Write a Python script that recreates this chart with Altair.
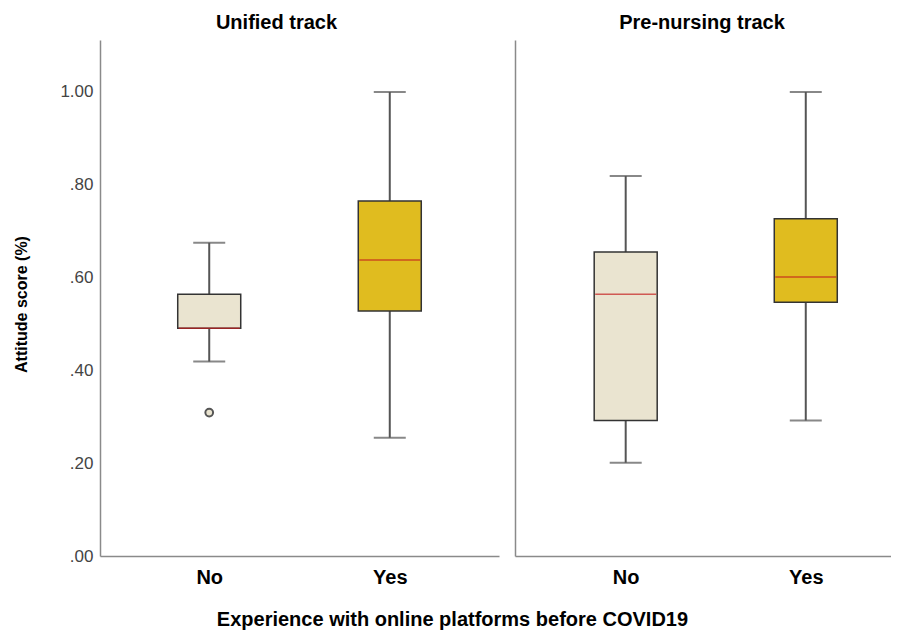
import altair as alt
import pandas as pd

# ---- data ----
tracks = ["Unified track", "Unified track", "Pre-nursing track", "Pre-nursing track"]
groups = ["No", "Yes", "No", "Yes"]
lower = [0.419, 0.255, 0.201, 0.292]
q1 = [0.491, 0.528, 0.292, 0.547]
median = [0.491, 0.638, 0.564, 0.601]
q3 = [0.564, 0.765, 0.655, 0.727]
upper = [0.675, 1.00, 0.819, 1.00]

outlier_tracks = ["Unified track"]
outlier_groups = ["No"]
outlier_values = [0.309]

y_ticks = [0.0, 0.2, 0.4, 0.6, 0.8, 1.0]

df = pd.DataFrame({"track": tracks, "group": groups, "lower": lower, "q1": q1,
                   "median": median, "q3": q3, "upper": upper})
out_df = pd.DataFrame({"track": outlier_tracks, "group": outlier_groups, "value": outlier_values})

FONT = "Liberation Sans"
BEIGE = "#EAE4D0"
GOLD = "#E0BC1F"
RED = "#C41E1E"
AXIS_GRAY = "#8a8a8a"

fill_scale = alt.Scale(domain=["No", "Yes"], range=[BEIGE, GOLD])
y_scale = alt.Scale(domain=[0, 1.112], nice=False, zero=True)


def panel(track, show_y, padding, align, width, title_dx):
    d = df[df.track == track]
    o = out_df[out_df.track == track]
    x = alt.X("group:N",
              scale=alt.Scale(type="point", padding=padding, align=align),
              sort=["No", "Yes"],
              axis=alt.Axis(title=None, labelAngle=0, labelFontSize=20, labelFont=FONT,
                            labelFontWeight="bold", labelColor="#000", ticks=False,
                            domainColor=AXIS_GRAY, domainWidth=1.5, labelPadding=11))
    if show_y:
        yaxis = alt.Axis(title="Attitude score (%)", values=y_ticks,
                         labelExpr="datum.value < 1 ? substring(format(datum.value, '.2f'), 1) : format(datum.value, '.2f')",
                         labelFontSize=17, labelFont=FONT, labelColor="#444",
                         ticks=False, tickSize=0, labelPadding=7,
                         domainColor=AXIS_GRAY, domainWidth=1.5,
                         titleFontSize=16, titleFont=FONT, titleFontWeight="bold",
                         titleColor="#000", titlePadding=30, titleY=264)
    else:
        yaxis = alt.Axis(title=None, labels=False, ticks=False, tickSize=0,
                         domainColor=AXIS_GRAY, domainWidth=1.5, values=y_ticks)

    whisker = alt.Chart(d).mark_rule(color="#555", strokeWidth=2).encode(
        x=x, y=alt.Y("lower:Q", scale=y_scale, axis=yaxis), y2="upper:Q")
    cap_lo = alt.Chart(d).mark_tick(color="#555", size=32, thickness=2).encode(
        x=x, y=alt.Y("lower:Q", scale=y_scale))
    cap_hi = alt.Chart(d).mark_tick(color="#555", size=32, thickness=2).encode(
        x=x, y=alt.Y("upper:Q", scale=y_scale))
    box = alt.Chart(d).mark_bar(size=63, stroke="#333", strokeWidth=1.5).encode(
        x=x, y=alt.Y("q1:Q", scale=y_scale), y2="q3:Q",
        fill=alt.Fill("group:N", scale=fill_scale, legend=None))
    med = alt.Chart(d).mark_tick(color=RED, size=61, thickness=1.5).encode(
        x=x, y=alt.Y("median:Q", scale=y_scale))
    layers = [whisker, cap_lo, cap_hi, box, med]
    if len(o):
        pts = alt.Chart(o).mark_point(shape="circle", filled=True, size=60, fill=BEIGE,
                                      stroke="#555", strokeWidth=2, opacity=1).encode(
            x=x, y=alt.Y("value:Q", scale=y_scale))
        layers.append(pts)
    return alt.layer(*layers).properties(
        width=width, height=516,
        title=alt.TitleParams(track, fontSize=20, font=FONT, fontWeight="bold",
                              color="#000", dx=title_dx, offset=7))


left = panel("Unified track", True, 0.605, 0.5, 399, -23)
right = panel("Pre-nursing track", False, 0.544, 0.565, 376, -1)

chart = alt.hconcat(left, right, spacing=16).properties(
    padding={"left": 5, "top": 5, "right": 0, "bottom": 0},
    title=alt.TitleParams("Experience with online platforms before COVID19", orient="bottom",
                          anchor="middle", fontSize=20, font=FONT, fontWeight="bold",
                          color="#000", offset=23)
).configure_view(stroke=None).configure_axis(grid=False)

chart.save("out.html", embed_options={"renderer": "svg", "actions": False})
